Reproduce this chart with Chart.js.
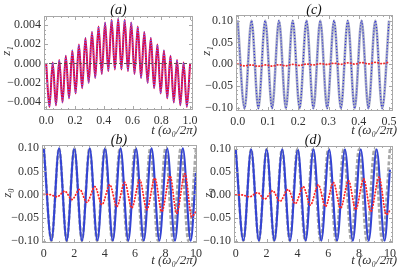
<!DOCTYPE html>
<html>
<head>
<meta charset="utf-8">
<script src="https://cdn.jsdelivr.net/npm/chart.js"></script>
<style>
  html, body { margin: 0; padding: 0; background: #fff; }
  #wrap { position: relative; width: 399px; height: 270px; overflow: hidden; }
  .panel { position: absolute; left: 0; top: 0; width: 399px; height: 270px; }
</style>
</head>
<body>
<div id="wrap">
  <div class="panel"><canvas id="panelA"></canvas></div>
  <div class="panel"><canvas id="panelC"></canvas></div>
  <div class="panel"><canvas id="panelB"></canvas></div>
  <div class="panel"><canvas id="panelD"></canvas></div>
</div>
<script>
// (a) z1 : extrema of the fast oscillation, t in units of 2pi/w0
const tA = [0, 0.0227, 0.0455, 0.0682, 0.0909, 0.1136, 0.1364, 0.1591, 0.1818, 0.2045, 0.2273,
  0.25, 0.2727, 0.2955, 0.3182, 0.3409, 0.3636, 0.3864, 0.4091, 0.4318, 0.4545, 0.4773, 0.5,
  0.5227, 0.5455, 0.5682, 0.5909, 0.6136, 0.6364, 0.6591, 0.6818, 0.7045, 0.7273, 0.75, 0.7727,
  0.7955, 0.8182, 0.8409, 0.8636, 0.8864, 0.9091, 0.9318, 0.9545, 0.9773, 1];
const zA = [0, -0.00448, 0.00009, -0.00432, 0.00036, -0.00402, 0.00079, -0.0036, 0.00134, -0.0031, 0.00197,
  -0.00255, 0.00263, -0.002, 0.00326, -0.0015, 0.00381, -0.00108, 0.00424, -0.00078, 0.00451, -0.00062, 0.0046,
  -0.00062, 0.00451, -0.00078, 0.00424, -0.00108, 0.00381, -0.0015, 0.00326, -0.002, 0.00263, -0.00255, 0.00197,
  -0.0031, 0.00134, -0.0036, 0.00079, -0.00402, 0.00036, -0.00432, 0.00009, -0.00448, 0];

// (c) z1 over half a period of w0
const tC = [0, 0.0227, 0.0455, 0.0682, 0.0909, 0.1136, 0.1364, 0.1591, 0.1818, 0.2045, 0.2273,
  0.25, 0.2727, 0.2955, 0.3182, 0.3409, 0.3636, 0.3864, 0.4091, 0.4318, 0.4545, 0.4773, 0.5];
const zCBlue = [0.1, -0.102, 0.1, -0.102, 0.1, -0.102, 0.1, -0.102, 0.1, -0.102, 0.1,
  -0.102, 0.1, -0.102, 0.1, -0.102, 0.1, -0.102, 0.1, -0.102, 0.1, -0.102, 0.1];
const zCRed = [0, -0.004, -0.002, -0.005, -0.002, -0.0045, -0.0015, -0.004, -0.0005, -0.003, 0,
  -0.002, 0.001, -0.001, 0.002, -0.0005, 0.003, 0, 0.0035, 0.0005, 0.004, 0.001, 0.0045];

// (b), (d) z0
const tGray = [0, 0.5, 1, 1.5, 2, 2.5, 3, 3.5, 4, 4.5, 5, 5.5, 6, 6.5, 7, 7.5, 8, 8.5, 9, 9.5, 10];
const zGray = [0.1, -0.1, 0.1, -0.1, 0.1, -0.1, 0.1, -0.1, 0.1, -0.1, 0.1, -0.1, 0.1, -0.1, 0.1, -0.1, 0.1, -0.1, 0.1, -0.1, 0.1];
const tBlue = [0, 0.5, 1.002, 1.504, 2.007, 2.511, 3.015, 3.521, 4.027, 4.534, 5.043,
  5.551, 6.061, 6.571, 7.083, 7.596, 8.109, 8.623, 9.138, 9.654, 10];
const zBlueB = [0.1, -0.1, 0.1, -0.1, 0.1, -0.1, 0.1, -0.1, 0.1, -0.1, 0.1, -0.1, 0.1, -0.1, 0.1, -0.1, 0.1, -0.1, 0.1, -0.1, 0.047];
const zBlueD = [0.1, -0.1, 0.1, -0.1, 0.1, -0.1, 0.1, -0.1, 0.1, -0.1, 0.1, -0.1, 0.1, -0.1, 0.1, -0.1, 0.1, -0.1, 0.1, -0.1, 0.055];
const tRedB = [0, 0.35, 0.86, 1.38, 1.85, 2.36, 2.83, 3.36, 3.82, 4.34, 4.8, 5.32, 5.78, 6.31, 6.77, 7.3, 7.75, 8.3, 8.73, 9.28, 9.72, 10];
const zRedB = [0, 0, -0.005, 0.007, -0.011, 0.011, -0.017, 0.017, -0.022, 0.021, -0.026, 0.026, -0.029, 0.031, -0.033, 0.035, -0.037, 0.04, -0.041, 0.045, -0.048, -0.037];
const tRedD = [0, 0.4, 0.9, 1.42, 1.88, 2.4, 2.87, 3.4, 3.86, 4.38, 4.84, 5.36, 5.82, 6.34, 6.8, 7.32, 7.78, 8.3, 8.76, 9.3, 9.76, 10];
const zRedD = [0, 0, -0.004, 0.005, -0.009, 0.009, -0.014, 0.012, -0.019, 0.018, -0.022, 0.022, -0.025, 0.027, -0.029, 0.031, -0.032, 0.035, -0.036, 0.039, -0.043, -0.034];

// tick labels
const xTicksA = [0, 0.2, 0.4, 0.6, 0.8, 1.0];
const yTicksA = [-0.004, -0.002, 0, 0.002, 0.004];
const xTicksC = [0, 0.1, 0.2, 0.3, 0.4, 0.5];
const yTicksZ = [-0.1, -0.05, 0, 0.05, 0.1];
const xTicksB = [0, 2, 4, 6, 8, 10];

const SERIF = '"Liberation Serif", "DejaVu Serif", serif';
const Y_W = 40, X_H = 20;

function pts(xs, ys) {
    return xs.map((x, i) => ({ x: x, y: ys[i] }));
}

function fmt(dec) {
    return v => (v < 0 ? '\u2212' : '') + Math.abs(v).toFixed(dec);
}

// cadre Mathematica : bord gris, graduations vers l'intérieur, textes
const framePlugin = {
    id: 'frame',
    afterDatasetsDraw(chart, args, o) {
        const ctx = chart.ctx;
        const a = chart.chartArea;
        const xs = chart.scales.x, ys = chart.scales.y;
        ctx.save();
        if (o.zeroLine) {
            const y0 = ys.getPixelForValue(0);
            ctx.strokeStyle = '#555';
            ctx.lineWidth = 1;
            ctx.setLineDash([3, 2]);
            ctx.beginPath();
            ctx.moveTo(a.left, y0);
            ctx.lineTo(a.right, y0);
            ctx.stroke();
            ctx.setLineDash([]);
        }
        ctx.strokeStyle = '#a8a8a8';
        ctx.lineWidth = 1;
        ctx.strokeRect(a.left + 0.5, a.top + 0.5, a.right - a.left - 1, a.bottom - a.top - 1);
        ctx.beginPath();
        const tick = (scale, step, len) => {
            const first = Math.ceil(scale.min / step - 1e-9);
            for (let k = first; k * step <= scale.max + 1e-12; k++) {
                const p = Math.round(scale.getPixelForValue(k * step)) + 0.5;
                if (scale === xs) {
                    ctx.moveTo(p, a.bottom); ctx.lineTo(p, a.bottom - len);
                    ctx.moveTo(p, a.top); ctx.lineTo(p, a.top + len);
                } else {
                    ctx.moveTo(a.left, p); ctx.lineTo(a.left + len, p);
                    ctx.moveTo(a.right, p); ctx.lineTo(a.right - len, p);
                }
            }
        };
        tick(xs, o.xMajor, 4); tick(xs, o.xMinor, 2);
        tick(ys, o.yMajor, 4); tick(ys, o.yMinor, 2);
        ctx.stroke();

        ctx.fillStyle = '#111';
        ctx.font = 'italic 14px ' + SERIF;
        ctx.textAlign = 'center';
        ctx.textBaseline = 'middle';
        ctx.fillText(o.title, o.titlePos[0], o.titlePos[1]);

        ctx.font = 'italic 13px ' + SERIF;
        ctx.textAlign = 'right';
        ctx.fillStyle = '#333';
        ctx.fillText('t (\u03c9\u2080/2\u03c0)', o.xLabelPos[0], o.xLabelPos[1]);

        ctx.translate(o.yLabelPos[0], o.yLabelPos[1]);
        ctx.rotate(-Math.PI / 2);
        ctx.textAlign = 'center';
        ctx.fillText(o.yLabel, 0, 0);
        ctx.restore();
    }
};

function makePanel(id, p) {
    const tickFont = { family: SERIF, size: 12 };
    new Chart(document.getElementById(id), {
        type: 'line',
        data: { datasets: p.datasets },
        options: {
            responsive: true,
            maintainAspectRatio: false,
            animation: false,
            events: [],
            layout: {
                padding: { left: p.area[0] - Y_W, top: p.area[1], right: 399 - p.area[2], bottom: 270 - p.area[3] - X_H }
            },
            elements: { point: { radius: 0 }, line: { cubicInterpolationMode: 'monotone' } },
            scales: {
                x: {
                    type: 'linear', min: p.xRange[0], max: p.xRange[1],
                    grid: { display: false, drawTicks: false }, border: { display: false },
                    afterBuildTicks: s => { s.ticks = p.xTicks.map(v => ({ value: v })); },
                    afterFit: s => { s.height = X_H; s.paddingLeft = 0; s.paddingRight = 0; },
                    ticks: { font: tickFont, color: '#333', padding: 4, maxRotation: 0, autoSkip: false, callback: p.xFmt }
                },
                y: {
                    type: 'linear', min: p.yRange[0], max: p.yRange[1],
                    grid: { display: false, drawTicks: false }, border: { display: false },
                    afterBuildTicks: s => { s.ticks = p.yTicks.map(v => ({ value: v })); },
                    afterFit: s => { s.width = Y_W; s.paddingTop = 0; s.paddingBottom = 0; },
                    ticks: { font: tickFont, color: '#333', padding: 3, autoSkip: false, callback: p.yFmt }
                }
            },
            plugins: {
                legend: { display: false },
                tooltip: { enabled: false },
                frame: p.frame
            }
        },
        plugins: [framePlugin]
    });
}

const dotted = [0.5, 2.6];

makePanel('panelA', {
    area: [44, 16, 193, 110],
    xRange: [-0.015, 1.02], yRange: [-0.0048, 0.0049],
    xTicks: xTicksA, yTicks: yTicksA, xFmt: fmt(1), yFmt: fmt(3),
    frame: { title: '(a)', titlePos: [118.5, 10], xLabelPos: [197, 131], yLabel: 'z\u2081', yLabelPos: [7, 51],
             xMajor: 0.2, xMinor: 0.05, yMajor: 0.002, yMinor: 0.0005, zeroLine: true },
    datasets: [
        { data: pts(tA, zA), borderColor: '#6a6aff', borderWidth: 1.3, borderDash: [1, 1.6], order: 0 },
        { data: pts(tA, zA), borderColor: '#e4003c', borderWidth: 2, order: 1 }
    ]
});

makePanel('panelC', {
    area: [236, 15, 393, 111],
    xRange: [-0.0056, 0.513], yRange: [-0.108, 0.113],
    xTicks: xTicksC, yTicks: yTicksZ, xFmt: fmt(1), yFmt: fmt(2),
    frame: { title: '(c)', titlePos: [314, 10], xLabelPos: [397, 131], yLabel: 'z\u2081', yLabelPos: [207, 51],
             xMajor: 0.1, xMinor: 0.02, yMajor: 0.05, yMinor: 0.01 },
    datasets: [
        { data: pts(tC, zCRed), borderColor: '#f03030', borderWidth: 1.8, borderDash: dotted, borderCapStyle: 'round', order: 0 },
        { data: pts(tC, zCBlue), borderColor: '#2b2bd9', borderWidth: 1.2, borderDash: [1, 2], order: 1 },
        { data: pts(tC, zCBlue), borderColor: '#a8adc4', borderWidth: 2.6, order: 2 }
    ]
});

makePanel('panelB', {
    area: [42, 145, 197, 243],
    xRange: [-0.12, 10.07], yRange: [-0.105, 0.107],
    xTicks: xTicksB, yTicks: yTicksZ, xFmt: fmt(0), yFmt: fmt(2),
    frame: { title: '(b)', titlePos: [119, 140], xLabelPos: [197, 261], yLabel: 'z\u2080', yLabelPos: [8, 193],
             xMajor: 2, xMinor: 0.5, yMajor: 0.05, yMinor: 0.01 },
    datasets: [
        { data: pts(tRedB, zRedB), borderColor: '#ff2525', borderWidth: 1.8, borderDash: dotted, borderCapStyle: 'round', order: 0 },
        { data: pts(tBlue, zBlueB), borderColor: '#3343d3', borderWidth: 2.1, order: 1 },
        { data: pts(tGray, zGray), borderColor: '#a8a8a8', borderWidth: 2.6, borderDash: [4, 2], order: 2 }
    ]
});

makePanel('panelD', {
    area: [234, 146, 393, 243],
    xRange: [-0.11, 10.2], yRange: [-0.105, 0.107],
    xTicks: xTicksB, yTicks: yTicksZ, xFmt: fmt(0), yFmt: fmt(2),
    frame: { title: '(d)', titlePos: [313, 140], xLabelPos: [397, 261], yLabel: 'z\u2080', yLabelPos: [209, 193],
             xMajor: 2, xMinor: 0.5, yMajor: 0.05, yMinor: 0.01 },
    datasets: [
        { data: pts(tRedD, zRedD), borderColor: '#ff2525', borderWidth: 1.8, borderDash: dotted, borderCapStyle: 'round', order: 0 },
        { data: pts(tBlue, zBlueD), borderColor: '#3343d3', borderWidth: 2.1, order: 1 },
        { data: pts(tGray, zGray), borderColor: '#a8a8a8', borderWidth: 2.6, borderDash: [4, 2], order: 2 }
    ]
});
</script>
</body>
</html>
